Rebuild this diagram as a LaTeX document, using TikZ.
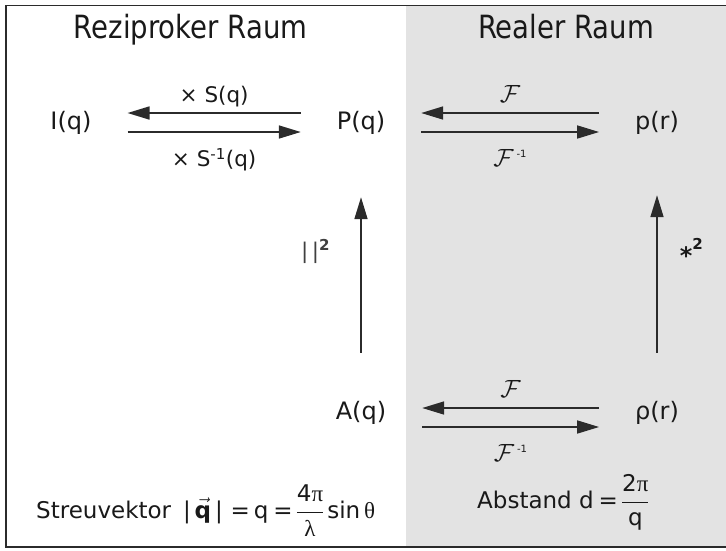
\documentclass[tikz,border=0pt]{standalone}
\usepackage{fontspec}
\setmainfont{DejaVu Sans}
\newfontfamily\titelfont[FakeStretch=0.86]{DejaVu Sans}
\newfontfamily\grk{Liberation Serif}
\usetikzlibrary{arrows.meta,positioning}
\definecolor{raumgrau}{HTML}{E3E3E3}
\definecolor{strich}{HTML}{2B2B2B}

\newcommand{\FT}{{\fontsize{25}{28}\selectfont$\mathcal{F}$}}
\newcommand{\FTinv}{{\fontsize{25}{28}\selectfont$\mathcal{F}^{\,\mbox{\fontsize{10}{10}\selectfont -1}}$}}

\tikzset{
  titel/.style={font=\titelfont\fontsize{32}{36}\selectfont, text=black!90, anchor=base},
  obj/.style={font=\fontsize{24}{28}\selectfont, inner sep=0pt, outer xsep=36pt, text=black!90, anchor=base},
  lbl/.style={font=\fontsize{21.5}{25}\selectfont, inner sep=0pt, text=black!90},
  oben/.style={lbl, anchor=south, text depth=0pt, yshift=10pt},
  unten/.style={lbl, anchor=north, text height=15pt, yshift=-19pt},
  formel/.style={font=\fontsize{23}{27}\selectfont, inner sep=0pt, anchor=base west, text=black!90},
  pfeil/.style={draw=strich, line width=1.7pt, -{Triangle[length=22pt,width=13pt]}},
}

\begin{document}
\begin{tikzpicture}[x=1pt,y=-1pt]
\useasboundingbox (0,0) rectangle (726,550);
% Hintergrund und Rahmen
\fill[raumgrau] (406,5.5) rectangle (726,547);
\draw[strich, line width=1.5pt] (726,5.5) -- (6,5.5) -- (6,547) -- (726,547);

\node[titel] (reziprok) at (190.5,38) {Reziproker Raum};
\node[titel] (real) at (566,38) {Realer Raum};

\node[obj] (I) at (71,129) {I(q)};
\node[obj] (P) at (361,129) {P(q)};
\node[obj] (p) at (657,129) {p(r)};
\node[obj] (A) at (361,419) {A(q)};
\node[obj] (rho) at (657,419) {ρ(r)};

% oben links
\draw[pfeil] ([yshift=16pt]P.base west) -- node[oben] {× S(q)} ([yshift=16pt]I.base east);
\draw[pfeil] ([yshift=-3pt]I.base east) -- node[unten] {× S\textsuperscript{-1}(q)} ([yshift=-3pt]P.base west);
% oben rechts
\draw[pfeil] ([yshift=16pt]p.base west) -- node[oben] {\FT} ([yshift=16pt]P.base east);
\draw[pfeil] ([yshift=-3pt]P.base east) -- node[unten] {\FTinv} ([yshift=-3pt]p.base west);
% unten
\draw[pfeil] ([yshift=11pt]rho.base west) -- node[oben] {\FT} ([yshift=11pt]A.base east);
\draw[pfeil] ([yshift=-8pt]A.base east) -- node[unten] {\FTinv} ([yshift=-8pt]rho.base west);

% senkrecht
\draw[pfeil, shorten <=48pt, shorten >=63pt] (A) -- node[lbl, pos=0.56, left=30pt, text=black!75] {|\,|\textsuperscript{\bfseries 2}} (P);
\draw[pfeil, shorten <=48pt, shorten >=61pt] (rho) -- node[lbl, pos=0.56, right=22pt] {{\fontsize{24}{24}\selectfont\bfseries\raisebox{-7pt}{*}}\textsuperscript{\bfseries 2}} (p);

\node[formel] (streu) at (36,518) {Streuvektor\hspace{12pt}|\,$\vec{\mbox{\bfseries q}}$\,|\hspace{8pt}=\,q\hspace{5pt}=\hspace{3pt}$\displaystyle\frac{\mbox{4{\grk π}}\rule[-6pt]{0pt}{0pt}}{\rule{0pt}{23pt}\mbox{\grk λ}}$\hspace{3pt}sin\,{\grk θ}};
\node[formel] (abstand) at (477,508) {Abstand d\hspace{5pt}=\hspace{3pt}$\displaystyle\frac{\mbox{2{\grk π}}\rule[-5pt]{0pt}{0pt}}{\rule{0pt}{22pt}\mbox{q}}$};
\end{tikzpicture}
\end{document}
